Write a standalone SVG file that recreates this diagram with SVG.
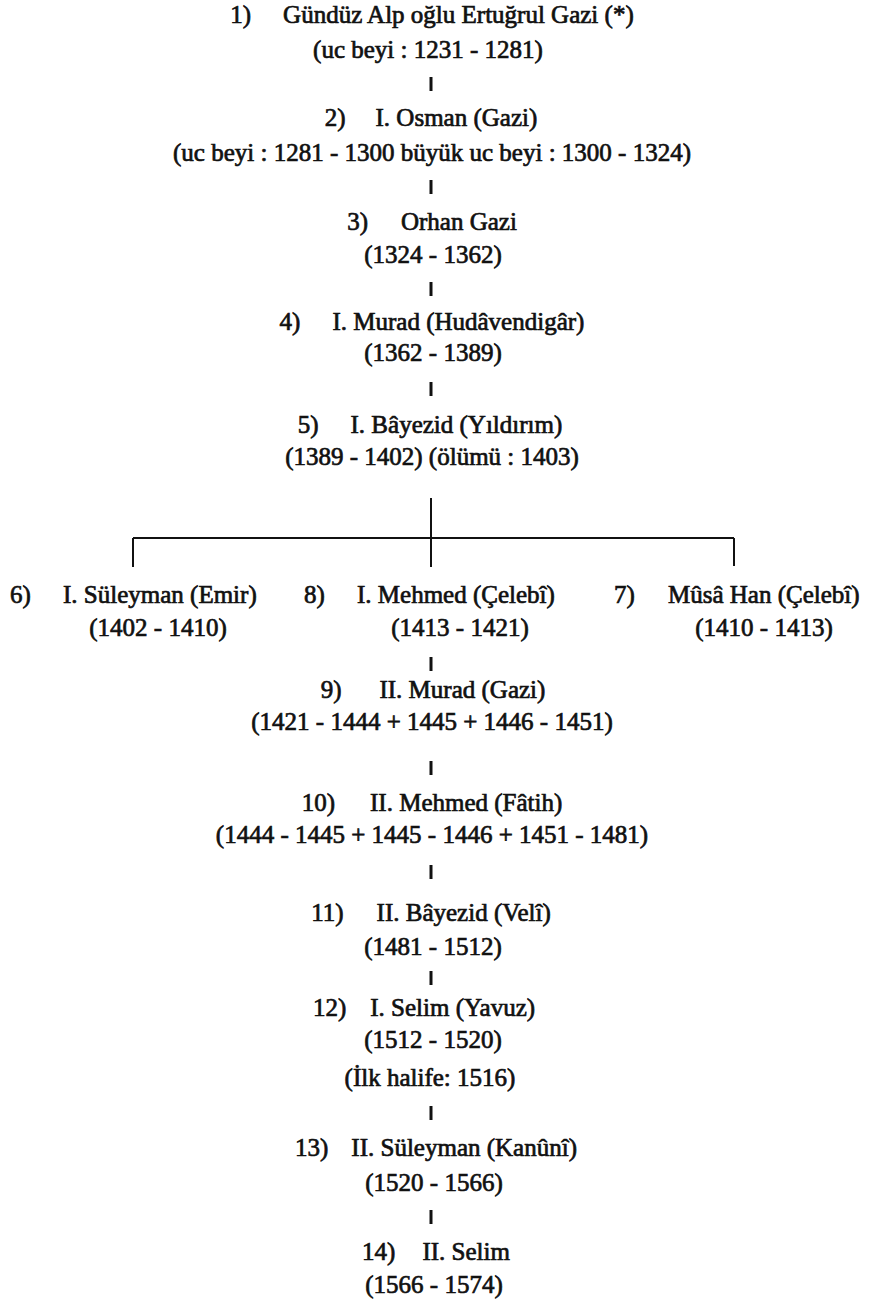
<svg xmlns="http://www.w3.org/2000/svg" width="878" height="1299" viewBox="0 0 878 1299">
<style>
.t{font-family:"Liberation Serif","Times New Roman",serif;font-size:25px;fill:#111;stroke:#111;stroke-width:0.7px}
.c{text-anchor:middle}
.ln{stroke:#111;stroke-width:2;fill:none}
.tk{stroke:#111;stroke-width:3;fill:none}
</style>
<rect width="878" height="1299" fill="#fff"/>
<g id="connectors">
<line class="tk" x1="431" y1="77" x2="431" y2="91"/>
<line class="tk" x1="431" y1="180" x2="431" y2="194"/>
<line class="tk" x1="431" y1="282" x2="431" y2="296"/>
<line class="tk" x1="431" y1="382" x2="431" y2="396"/>
<line class="ln" x1="431" y1="498" x2="431" y2="567"/>
<line class="ln" x1="133" y1="538" x2="734" y2="538"/>
<line class="ln" x1="133" y1="538" x2="133" y2="567"/>
<line class="ln" x1="734" y1="538" x2="734" y2="566"/>
<line class="tk" x1="431" y1="657" x2="431" y2="671"/>
<line class="tk" x1="431" y1="761" x2="431" y2="775"/>
<line class="tk" x1="431" y1="865" x2="431" y2="879"/>
<line class="tk" x1="431" y1="971" x2="431" y2="985"/>
<line class="tk" x1="431" y1="1106" x2="431" y2="1120"/>
<line class="tk" x1="431" y1="1210" x2="431" y2="1224"/>
</g>
<g id="n1">
<text class="t c" x="432" y="23"><tspan>1)</tspan><tspan dx="32">Gündüz Alp oğlu Ertuğrul Gazi (*)</tspan></text>
<text class="t c" x="428" y="58">(uc beyi : 1231 - 1281)</text>
</g>
<g id="n2">
<text class="t c" x="431" y="126"><tspan>2)</tspan><tspan dx="30">I. Osman (Gazi)</tspan></text>
<text class="t c" x="432" y="161">(uc beyi : 1281 - 1300 büyük uc beyi : 1300 - 1324)</text>
</g>
<g id="n3">
<text class="t c" x="432" y="230"><tspan>3)</tspan><tspan dx="33">Orhan Gazi</tspan></text>
<text class="t c" x="433" y="263">(1324 - 1362)</text>
</g>
<g id="n4">
<text class="t c" x="432" y="330"><tspan>4)</tspan><tspan dx="32">I. Murad (Hudâvendigâr)</tspan></text>
<text class="t c" x="433" y="361">(1362 - 1389)</text>
</g>
<g id="n5">
<text class="t c" x="430" y="433"><tspan>5)</tspan><tspan dx="32">I. Bâyezid (Yıldırım)</tspan></text>
<text class="t c" x="432" y="465">(1389 - 1402) (ölümü : 1403)</text>
</g>
<g id="n6">
<text class="t" x="10" y="603">6)</text>
<text class="t" x="63" y="603">I. Süleyman (Emir)</text>
<text class="t c" x="158" y="636">(1402 - 1410)</text>
</g>
<g id="n8">
<text class="t" x="304" y="603">8)</text>
<text class="t" x="357" y="603">I. Mehmed (Çelebî)</text>
<text class="t c" x="460" y="636">(1413 - 1421)</text>
</g>
<g id="n7">
<text class="t" x="614" y="603">7)</text>
<text class="t" x="668" y="603">Mûsâ Han (Çelebî)</text>
<text class="t c" x="764" y="636">(1410 - 1413)</text>
</g>
<g id="n9">
<text class="t c" x="433" y="698"><tspan>9)</tspan><tspan dx="38">II. Murad (Gazi)</tspan></text>
<text class="t c" x="432" y="730">(1421 - 1444 + 1445 + 1446 - 1451)</text>
</g>
<g id="n10">
<text class="t c" x="432" y="811"><tspan>10)</tspan><tspan dx="35">II. Mehmed (Fâtih)</tspan></text>
<text class="t c" x="432" y="843">(1444 - 1445 + 1445 - 1446 + 1451 - 1481)</text>
</g>
<g id="n11">
<text class="t c" x="431" y="921"><tspan>11)</tspan><tspan dx="33">II. Bâyezid (Velî)</tspan></text>
<text class="t c" x="433" y="955">(1481 - 1512)</text>
</g>
<g id="n12">
<text class="t c" x="424" y="1016"><tspan>12)</tspan><tspan dx="24">I. Selim (Yavuz)</tspan></text>
<text class="t c" x="433" y="1048">(1512 - 1520)</text>
<text class="t c" x="430" y="1086">(İlk halife: 1516)</text>
</g>
<g id="n13">
<text class="t c" x="436" y="1156"><tspan>13)</tspan><tspan dx="23">II. Süleyman (Kanûnî)</tspan></text>
<text class="t c" x="434" y="1191">(1520 - 1566)</text>
</g>
<g id="n14">
<text class="t c" x="436" y="1260"><tspan>14)</tspan><tspan dx="27">II. Selim</tspan></text>
<text class="t c" x="434" y="1293">(1566 - 1574)</text>
</g>
</svg>
